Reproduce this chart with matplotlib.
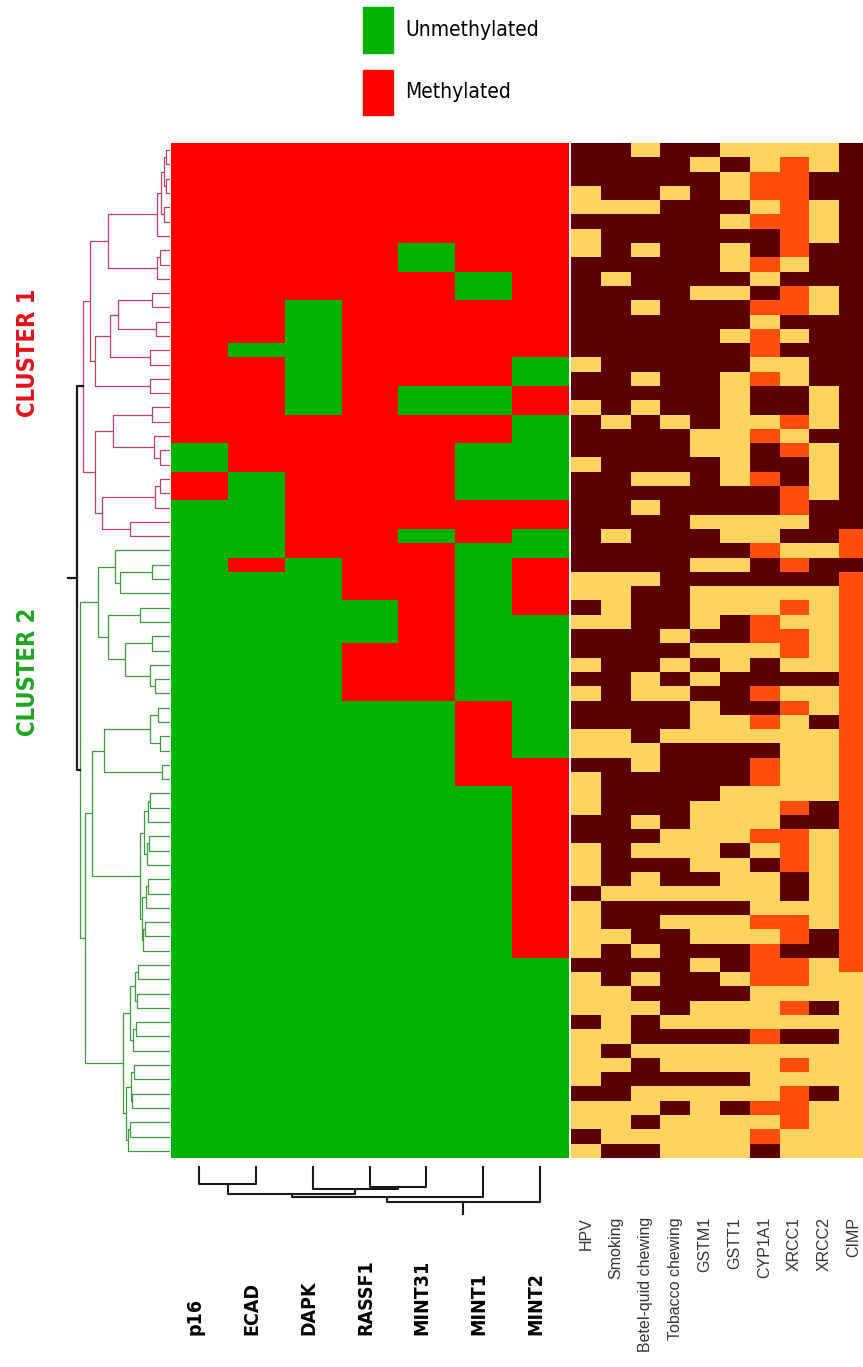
import matplotlib
matplotlib.use('Agg')
import matplotlib.pyplot as plt
import numpy as np
from matplotlib.colors import ListedColormap
from matplotlib.patches import Rectangle

W, H = 863, 1367

genes = ['p16', 'ECAD', 'DAPK', 'RASSF1', 'MINT31', 'MINT1', 'MINT2']
factors = ['HPV', 'Smoking', 'Betel-quid chewing', 'Tobacco chewing', 'GSTM1',
           'GSTT1', 'CYP1A1', 'XRCC1', 'XRCC2', 'CIMP']
legend_labels = ['Unmethylated', 'Methylated']
cluster_labels = ['CLUSTER 1', 'CLUSTER 2']

# promoter status per sample (row order of the dendrogram): M methylated, U unmethylated
methylation = [
    'MMMMMMM', 'MMMMMMM', 'MMMMMMM', 'MMMMMMM', 'MMMMMMM', 'MMMMMMM', 'MMMMMMM',
    'MMMMUMM', 'MMMMUMM', 'MMMMMUM', 'MMMMMUM', 'MMUMMMM', 'MMUMMMM', 'MMUMMMM',
    'MUUMMMM', 'MMUMMMU', 'MMUMMMU', 'MMUMUUM', 'MMUMUUM', 'MMMMMMU', 'MMMMMMU',
    'UMMMMUU', 'UMMMMUU', 'MUMMMUU', 'MUMMMUU', 'UUMMMMM', 'UUMMMMM', 'UUMMUMU',
    'UUMMMUU', 'UMUMMUM', 'UUUMMUM', 'UUUMMUM', 'UUUUMUM', 'UUUUMUU', 'UUUUMUU',
    'UUUMMUU', 'UUUMMUU', 'UUUMMUU', 'UUUMMUU', 'UUUUUMU', 'UUUUUMU', 'UUUUUMU',
    'UUUUUMU', 'UUUUUMM', 'UUUUUMM', 'UUUUUUM', 'UUUUUUM', 'UUUUUUM', 'UUUUUUM',
    'UUUUUUM', 'UUUUUUM', 'UUUUUUM', 'UUUUUUM', 'UUUUUUM', 'UUUUUUM', 'UUUUUUM',
    'UUUUUUM', 'UUUUUUU', 'UUUUUUU', 'UUUUUUU', 'UUUUUUU', 'UUUUUUU', 'UUUUUUU',
    'UUUUUUU', 'UUUUUUU', 'UUUUUUU', 'UUUUUUU', 'UUUUUUU', 'UUUUUUU', 'UUUUUUU',
    'UUUUUUU',
]

# exposure / genotype per sample: Y absent, B present, O variant
covariates = [
    'BBYBBYYYYB', 'BBBBYBYOYB', 'BBBBBYOOBB', 'YBBYBYOOBB', 'YYYBBBYOYB',
    'BBBBBYOOYB', 'YBBBBBBOYB', 'YBYBBYBOBB', 'BBBBBYOYBB', 'BYBBBBYBBB',
    'BBBBYYBOYB', 'BBYBBBOOYB', 'BBBBBBYBBB', 'BBBBBYOYBB', 'BBBBBBOBBB',
    'YBBBBBYYBB', 'BBYBBYOYBB', 'BBBBBYBBYB', 'YBYBBYBBYB', 'BYBYBYYOYB',
    'BBBBYYOYBB', 'BBBBYYBOYB', 'YBBBBYBBYB', 'BBYYBYOBYB', 'BBBBBBBOYB',
    'BBYBBBBOBB', 'BBBBYYYYBB', 'BYBBBYYBBO', 'BBBBBBOYYO', 'BBBBYYBOBB',
    'YYYBBBBBBO', 'YYBBYYYYYO', 'BYBBYYYOYO', 'YYBBYBOYYO', 'BBBYBBOOYO',
    'BBBBYYYOYO', 'YBBYBYBYYO', 'BBYBYBBBBO', 'YBYYBBOYYO', 'BBBBYBBOYO',
    'BBBBYYOYBO', 'YYBYYYYYYO', 'YYYBBBBYYO', 'BBYBBBOYYO', 'YBBBBBOYYO',
    'YBBBBYYYYO', 'YBBBYYYOBO', 'BBYBYYYBBO', 'BBBYYYOOYO', 'YBYYYBYOYO',
    'YBBBYYBOYO', 'YBYBBYYBYO', 'BYYYYYYBYO', 'YBBBBBYYYO', 'YBBYYYOOYO',
    'YYBBYYYOBO', 'YBYBBBOBBO', 'BBBBYBOOYO', 'YBYBBYOOYY', 'YYBBBBYYYY',
    'YYYBYYYOBY', 'BYBYYYYYYY', 'YYBBBBOBBY', 'YBYYYYYYYY', 'YYBYYYYOYY',
    'YBBBBBYYYY', 'BBYYYYYOBY', 'YYYBYBOOYY', 'YYBYYYYOYY', 'BYYYYYOYYY',
    'YBBYYYBYYY',
]

# sample dendrogram: [merge height, left, right], leaves are row numbers
a_grp = [13, [9, [6, [4, 0, 1], [4, 2, 3]], [6, 4, 5]], 6]
b_grp = [13, [10, 7, 8], 9]
c_grp = [75, [60, [52, [18, 10, 11], [14, 12, 13]], [20, 14, 15]], [20, 16, 17]]
d_grp = [75, [57, [18, 18, 19], [16, 20, [10, 21, 22]]],
         [68, [15, [10, 23, 24], 25], [40, 26, 27]]]
cluster1 = [87, [80, [62, a_grp, b_grp], c_grp], d_grp]

e_grp = [72, [55, 28, [50, [18, 29, 30], 31]],
         [62, [30, 32, 33], [45, [18, 34, 35], [20, 36, [15, 37, 38]]]]]
f1_grp = [66, [20, [12, 39, 40], [10, 41, 42]], [8, 43, 44]]
f2_grp = [30, [26, [22, [20, 45, 46], 47], [23, [21, 48, 49], 50]],
          [28, [24, [22, 51, 52], 53], [27, [25, 54, 55], 56]]]
g_grp = [47, [40, [35, [32, 57, 58], [33, 59, 60]], [37, [34, 61, 62], 63]],
         [44, [39, [36, 64, 65], [38, 66, 67]], [42, [40, 68, 69], 70]]]
cluster2 = [90, e_grp, [85, [78, f1_grp, f2_grp], g_grp]]
root_height = 93
root_stub = 102

# gene dendrogram, leaves are column numbers
gene_tree = [36, [30.7, [28.3, [18.3, 0, 1], [22.7, 2, [20.7, 3, 4]]], 5], 6]
gene_stub = 48

meth_colors = ListedColormap(['#00b300', '#ff0000'])
cov_colors = ListedColormap(['#ffd35e', '#5a0000', '#ff4e0e'])

meth = np.array([[1 if c == 'M' else 0 for c in row] for row in methylation])
cov = np.array([['YBO'.index(c) for c in row] for row in covariates])
n_rows = len(methylation)


def px_axes(fig, left, top, right, bottom):
    return fig.add_axes([left / W, 1 - bottom / H, (right - left) / W, (bottom - top) / H])


def draw_rows(ax, node, color, lw=0.9):
    if isinstance(node, int):
        return node + 0.5, 0.0
    h, a, b = node
    ya, ha = draw_rows(ax, a, color, lw)
    yb, hb = draw_rows(ax, b, color, lw)
    ax.plot([ha, h, h, hb], [ya, ya, yb, yb], color=color, lw=lw, solid_capstyle='butt')
    return (ya + yb) / 2, h


def draw_cols(ax, node):
    if isinstance(node, int):
        return node + 0.5, 0.0
    h, a, b = node
    xa, ha = draw_cols(ax, a)
    xb, hb = draw_cols(ax, b)
    ax.plot([xa, xa, xb, xb], [ha, h, h, hb], color='#1a1a1a', lw=1.5)
    return (xa + xb) / 2, h


fig = plt.figure(figsize=(W / 100, H / 100), dpi=100)

top, bottom = 143, 1158

ax_m = px_axes(fig, 171, top, 568, bottom)
ax_m.imshow(meth, cmap=meth_colors, vmin=0, vmax=1, aspect='auto',
            interpolation='nearest', extent=(0, meth.shape[1], n_rows, 0))
ax_m.axis('off')

ax_c = px_axes(fig, 571, top, 869, bottom)
ax_c.imshow(cov, cmap=cov_colors, vmin=0, vmax=2, aspect='auto',
            interpolation='nearest', extent=(0, cov.shape[1], n_rows, 0))
ax_c.axis('off')

# sample dendrogram on the left
ax_d = px_axes(fig, 60, top, 170, bottom)
y1, h1 = draw_rows(ax_d, cluster1, '#bc4262')
y2, h2 = draw_rows(ax_d, cluster2, '#3a9e3a')
ax_d.plot([h1, root_height, root_height, h2], [y1, y1, y2, y2], color='#1a1a1a', lw=1.6)
ax_d.plot([root_height, root_stub], [(y1 + y2) / 2] * 2, color='#1a1a1a', lw=1.6)
ax_d.set_xlim(110, 0)
ax_d.set_ylim(n_rows, 0)
ax_d.axis('off')

# gene dendrogram below the methylation block
ax_g = px_axes(fig, 171, 1166, 568, 1221)
xr, hr = draw_cols(ax_g, gene_tree)
ax_g.plot([xr, xr], [hr, gene_stub], color='#1a1a1a', lw=1.5)
ax_g.set_xlim(0, len(genes))
ax_g.set_ylim(55, 0)
ax_g.axis('off')

col_w = (568 - 171) / len(genes)
for i, g in enumerate(genes):
    fig.text((171 + (i + 0.5) * col_w - 4) / W, 1 - 1335 / H, g, rotation=90,
             ha='center', va='bottom', fontsize=14, fontweight='bold',
             family='DejaVu Sans', fontstretch='condensed')

cov_w = (869 - 571) / len(factors)
for i, f in enumerate(factors):
    fig.text((571 + (i + 0.5) * cov_w) / W, 1 - 1217 / H, f, rotation=90,
             ha='center', va='top', fontsize=11.5, color='#333333', family='Liberation Sans')

fig.text(28 / W, 1 - 353 / H, cluster_labels[0], rotation=90, ha='center', va='center',
         fontsize=17, fontweight='bold', color='#e3121b',
         family='DejaVu Sans', fontstretch='condensed')
fig.text(28 / W, 1 - 672 / H, cluster_labels[1], rotation=90, ha='center', va='center',
         fontsize=17, fontweight='bold', color='#1fa51f',
         family='DejaVu Sans', fontstretch='condensed')

# legend
for (y0, hgt), col, lab in zip([(7, 46), (70, 45)], ['#00b300', '#ff0000'], legend_labels):
    fig.add_artist(Rectangle((363 / W, 1 - (y0 + hgt) / H), 30 / W, hgt / H,
                             transform=fig.transFigure, color=col))
    fig.text(405 / W, 1 - (y0 + hgt / 2) / H, lab, ha='left', va='center',
             fontsize=15, family='DejaVu Sans', fontstretch='condensed')

fig.savefig('out.png', dpi=100)
